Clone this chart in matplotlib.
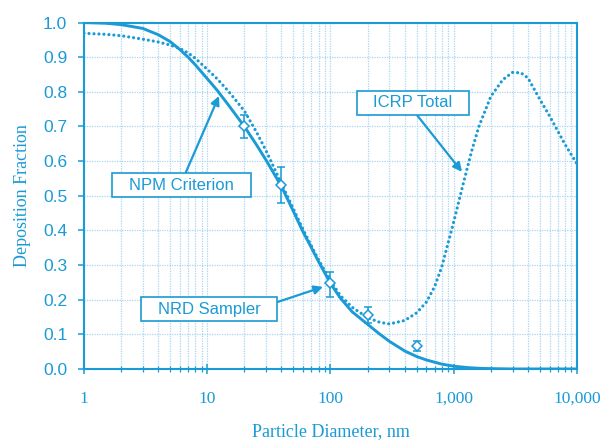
import numpy as np
import matplotlib.pyplot as plt
from matplotlib.path import Path
from matplotlib.ticker import FixedLocator, FuncFormatter, NullFormatter

blue = '#1a9ad6'
grid_blue = '#a9d5f0'

# NPM criterion (solid)
npm_d = [1, 1.5, 2, 3, 4, 5, 6, 7, 8, 10, 12, 15, 20, 25, 30, 40, 50, 60, 70,
         80, 100, 120, 150, 200, 250, 300, 400, 500, 600, 800, 1000, 1300,
         1600, 2000, 3000, 5000, 10000]
npm_v = [1.0, 0.998, 0.994, 0.983, 0.965, 0.945, 0.922, 0.900, 0.878, 0.838,
         0.805, 0.760, 0.700, 0.648, 0.603, 0.527, 0.455, 0.395, 0.350, 0.310,
         0.247, 0.205, 0.165, 0.129, 0.101, 0.080, 0.052, 0.036, 0.026, 0.014,
         0.008, 0.004, 0.002, 0.001, 0.0, 0.0, 0.0]

# ICRP total deposition (dotted)
icrp_d = [1, 1.5, 2, 3, 4, 5, 6, 7, 8, 10, 12, 15, 20, 25, 30, 40, 50, 60, 70,
          80, 100, 120, 150, 200, 250, 300, 400, 500, 600, 700, 800, 1000,
          1200, 1400, 1600, 2000, 2500, 3000, 3500, 4000, 5000, 6000, 7000,
          8000, 10000]
icrp_v = [0.969, 0.966, 0.962, 0.952, 0.944, 0.935, 0.925, 0.912, 0.897, 0.865,
          0.838, 0.800, 0.745, 0.685, 0.630, 0.535, 0.462, 0.402, 0.355, 0.315,
          0.255, 0.212, 0.178, 0.148, 0.135, 0.130, 0.140, 0.162, 0.193, 0.238,
          0.295, 0.425, 0.538, 0.630, 0.700, 0.787, 0.835, 0.856, 0.855, 0.840,
          0.778, 0.730, 0.686, 0.648, 0.592]

# NRD sampler measurements
nrd_d = [20, 40, 100, 200, 500]
nrd_v = [0.70, 0.531, 0.247, 0.156, 0.066]
nrd_lo = [0.667, 0.48, 0.207, 0.134, 0.053]
nrd_hi = [0.733, 0.584, 0.281, 0.18, 0.082]

x_ticks = [1, 10, 100, 1000, 10000]
y_ticks = np.arange(0, 1.01, 0.1)


def wide_box(x0, y0, width, height, mutation_size):
    px, py = 1.0 * mutation_size, 0.27 * mutation_size
    return Path([(x0 - px, y0 - py), (x0 + width + px, y0 - py),
                 (x0 + width + px, y0 + height + py), (x0 - px, y0 + height + py),
                 (x0 - px, y0 - py)], closed=True)


fig = plt.figure(figsize=(6.1, 4.42), dpi=100)
ax = fig.add_axes([0.1377, 0.1652, 0.8082, 0.7838])

ax.plot(npm_d, npm_v, color=blue, lw=2.1, solid_capstyle='round',
        solid_joinstyle='round', zorder=3)
ax.plot(icrp_d, icrp_v, color=blue, lw=2.3, linestyle=(0, (0.01, 1.55)),
        dash_capstyle='round', zorder=3)

err = [np.array(nrd_v) - np.array(nrd_lo), np.array(nrd_hi) - np.array(nrd_v)]
ax.errorbar(nrd_d, nrd_v, yerr=err, fmt='D', ms=4.8, mfc='white', mec=blue,
            mew=1.1, ecolor=blue, elinewidth=1.1, capsize=2.6, capthick=1.1,
            zorder=4)

ax.set_xscale('log')
ax.set_xlim(1, 10000)
ax.set_ylim(0, 1.0)

ax.xaxis.set_major_locator(FixedLocator(x_ticks))
ax.xaxis.set_major_formatter(FuncFormatter(lambda v, p: f'{int(round(v)):,}'))
minors = [m * 10 ** e for e in range(4) for m in range(2, 10)]
ax.xaxis.set_minor_locator(FixedLocator(minors))
ax.xaxis.set_minor_formatter(NullFormatter())
ax.set_yticks(y_ticks)
ax.set_yticklabels([f'{v:.1f}' for v in y_ticks])

ax.grid(True, which='both', color=grid_blue, lw=0.9, linestyle=(0, (1, 1)))
ax.set_axisbelow(True)

for s in ax.spines.values():
    s.set_color(blue)
    s.set_linewidth(1.5)

ax.tick_params(axis='x', which='major', direction='inout', length=7, width=1.1,
               color=blue, labelcolor=blue, pad=12, labelsize=12.5)
ax.tick_params(axis='x', which='minor', direction='inout', length=5, width=0.9,
               color=blue)
ax.tick_params(axis='y', direction='out', length=4, width=1.1, color=blue,
               labelcolor=blue, pad=8, labelsize=12.5)
for lab in ax.get_xticklabels():
    lab.set_fontfamily('Liberation Serif')
for lab in ax.get_yticklabels():
    lab.set_fontfamily('Liberation Sans')

ax.set_xlabel('Particle Diameter, nm', fontsize=13, color=blue,
              family='Liberation Serif', labelpad=12)
ax.set_ylabel('Deposition Fraction', fontsize=13, color=blue,
              family='Liberation Serif', labelpad=9)

box = dict(boxstyle=wide_box, fc='white', ec=blue, lw=1.2)
arrow = dict(arrowstyle='-|>', color=blue, lw=1.6, mutation_scale=13,
             shrinkA=0, shrinkB=0)

ax.annotate('NPM Criterion', xy=(12.45, 0.788), xytext=(6.18, 0.531),
            ha='center', va='center', fontsize=12, color=blue,
            family='Liberation Sans', bbox=box,
            arrowprops=dict(arrow, relpos=(0.52, 1.0)), zorder=5)
ax.annotate('NRD Sampler', xy=(86.9, 0.237), xytext=(10.4, 0.172),
            ha='center', va='center', fontsize=12, color=blue,
            family='Liberation Sans', bbox=box,
            arrowprops=dict(arrow, relpos=(1.0, 0.62)), zorder=5)
ax.annotate('ICRP Total', xy=(1167, 0.569), xytext=(467, 0.769),
            ha='center', va='center', fontsize=12, color=blue,
            family='Liberation Sans', bbox=box,
            arrowprops=dict(arrow, relpos=(0.5, 0.0)), zorder=5)

fig.savefig('out.png', dpi=100)
